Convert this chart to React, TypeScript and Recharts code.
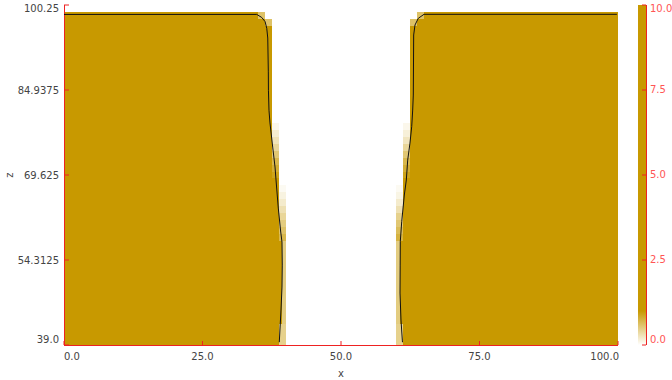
import React from 'react';
import { ComposedChart, XAxis, YAxis, Scatter, ReferenceArea } from 'recharts';

const GOLD = '#c89900';
const AXIS_RED = '#ee2222';
const CB_LABEL = '#ff5555';
const TEXT = '#444444';
const FONT = 'DejaVu Sans';

const xTicks = [0, 25, 50, 75, 100];
const xTickLabels = ['0.0', '25.0', '50.0', '75.0', '100.0'];
const zTicks = [39, 54.3125, 69.625, 84.9375, 100.25];
const zTickLabels = ['39.0', '54.3125', '69.625', '84.9375', '100.25'];
const cbTicks = [0, 2.5, 5, 7.5, 10];
const cbTickLabels = ['0.0', '2.5', '5.0', '7.5', '10.0'];
const cbSaturation = 1.0; // value at which the colour map reaches full gold
const cbMax = 10;
const cellHeight = 1.25;

// bottom z of each row of cells
const rowZ = [
  39, 40.25, 41.5, 42.75, 44, 45.25, 46.5, 47.75, 49, 50.25, 51.5, 52.75,
  54, 55.25, 56.5, 57.75, 59, 60.25, 61.5, 62.75, 64, 65.25, 66.5, 67.75,
  69, 70.25, 71.5, 72.75, 74, 75.25, 76.5, 77.75, 79, 80.25, 81.5, 82.75,
  84, 85.25, 86.5, 87.75, 89, 90.25, 91.5, 92.75, 94, 95.25, 96.5, 97.75,
];

// left block: full cells from x=0 to leftFull, partial cell leftFull..leftFringeEnd
const leftFull = [
  38.75, 38.75, 38.75,
  39.375, 39.375, 39.375, 39.375, 39.375, 39.375, 39.375, 39.375, 39.375, 39.375, 39.375, 39.375,
  38.75, 38.75, 38.75, 38.75, 38.75, 38.75, 38.75, 38.75, 38.75,
  37.5, 37.5, 37.5, 37.5, 37.5, 37.5, 37.5, 37.5, 37.5, 37.5, 37.5, 37.5,
  37.5, 37.5, 37.5, 37.5, 37.5, 37.5, 37.5, 37.5, 37.5, 37.5,
  36.25, 35,
];
const leftFringeEnd = [
  40, 40, 40,
  40, 40, 40, 40, 40, 40, 40, 40, 40, 40, 40, 40,
  40, 40, 40, 40, 40, 40, 40, 40, 38.75,
  38.75, 38.75, 38.75, 38.75, 38.75, 38.75, 38.75, 38.75, 37.5, 37.5, 37.5, 37.5,
  37.5, 37.5, 37.5, 37.5, 37.5, 37.5, 37.5, 37.5, 37.5, 37.5,
  37.5, 36.25,
];
const leftFringeVal = [
  0.45, 0.45, 0.45,
  0.5, 0.5, 0.5, 0.5, 0.5, 0.5, 0.5, 0.5, 0.5, 0.5, 0.5, 0.5,
  0.7, 0.6, 0.5, 0.4, 0.3, 0.2, 0.12, 0.05, 0,
  0.9, 0.8, 0.7, 0.55, 0.4, 0.28, 0.18, 0.08, 0, 0, 0, 0,
  0, 0, 0, 0, 0, 0, 0, 0, 0, 0,
  0.6, 0.6,
];

// right block: partial cell rightFringeStart..rightFull, full cells rightFull..100
const rightFull = [
  61.25, 61.25, 61.25,
  60.625, 60.625, 60.625, 60.625, 60.625, 60.625, 60.625, 60.625, 60.625, 60.625, 60.625, 60.625,
  61.25, 61.25, 61.25, 61.25, 61.25, 61.25, 61.25, 61.25, 61.25,
  62.5, 62.5, 62.5, 62.5, 62.5, 62.5, 62.5, 62.5, 62.5, 62.5, 62.5, 62.5,
  62.5, 62.5, 62.5, 62.5, 62.5, 62.5, 62.5, 62.5, 62.5, 62.5,
  63.75, 65,
];
const rightFringeStart = [
  60, 60, 60,
  60, 60, 60, 60, 60, 60, 60, 60, 60, 60, 60, 60,
  60, 60, 60, 60, 60, 60, 60, 60, 61.25,
  61.25, 61.25, 61.25, 61.25, 61.25, 61.25, 61.25, 61.25, 62.5, 62.5, 62.5, 62.5,
  62.5, 62.5, 62.5, 62.5, 62.5, 62.5, 62.5, 62.5, 62.5, 62.5,
  62.5, 63.75,
];
const rightFringeVal = [
  0.45, 0.45, 0.45,
  0.5, 0.5, 0.5, 0.5, 0.5, 0.5, 0.5, 0.5, 0.5, 0.5, 0.5, 0.5,
  0.75, 0.65, 0.55, 0.45, 0.3, 0.2, 0.1, 0.05, 0,
  0.9, 0.8, 0.7, 0.55, 0.4, 0.25, 0.15, 0.08, 0, 0, 0, 0,
  0, 0, 0, 0, 0, 0, 0, 0, 0, 0,
  0.6, 0.6,
];
const fieldXMax = 100;

const leftContour = [
  { x: 0, z: 98.55 }, { x: 34.8, z: 98.55 }, { x: 35.7, z: 98.0 }, { x: 36.3, z: 97.25 },
  { x: 36.6, z: 96.05 }, { x: 36.78, z: 94.3 }, { x: 36.88, z: 88.2 }, { x: 36.9, z: 84.9 },
  { x: 37.0, z: 81.3 }, { x: 37.18, z: 79.0 }, { x: 37.67, z: 74.66 }, { x: 38.09, z: 71.06 },
  { x: 38.27, z: 68.72 }, { x: 38.68, z: 63.67 }, { x: 39.12, z: 59.35 }, { x: 39.35, z: 57.55 },
  { x: 39.4, z: 53.4 }, { x: 39.35, z: 49.44 }, { x: 39.17, z: 45.3 }, { x: 38.86, z: 39.5 },
];
const rightContour = [
  { x: 99.8, z: 98.57 }, { x: 66.97, z: 98.57 }, { x: 64.98, z: 98.57 }, { x: 63.95, z: 97.85 },
  { x: 63.36, z: 96.65 }, { x: 63.12, z: 94.85 }, { x: 63.05, z: 84.03 }, { x: 62.94, z: 81.33 },
  { x: 62.76, z: 78.32 }, { x: 62.45, z: 75.38 }, { x: 62.04, z: 72.31 }, { x: 61.79, z: 68.72 },
  { x: 61.43, z: 66.02 }, { x: 60.96, z: 61.21 }, { x: 60.7, z: 57.6 }, { x: 60.68, z: 53.4 },
  { x: 60.65, z: 48.36 }, { x: 60.83, z: 43.5 }, { x: 61.07, z: 39.89 }, { x: 61.1, z: 39.5 },
];

const CrispRect = (p: any) => (
  <rect x={p.x} y={p.y} width={p.width} height={p.height} fill={p.fill}
    fillOpacity={p.fillOpacity} stroke="none" shapeRendering="crispEdges" />
);

const ColorbarRect = (p: any) => (
  <g>
    <defs>
      <linearGradient id="cbGradient" x1="0" y1="1" x2="0" y2="0">
        <stop offset="0" stopColor="#ffffff" />
        <stop offset={cbSaturation / cbMax} stopColor={GOLD} />
        <stop offset="1" stopColor={GOLD} />
      </linearGradient>
    </defs>
    <rect x={p.x} y={p.y} width={p.width} height={p.height} fill="url(#cbGradient)"
      stroke="none" shapeRendering="crispEdges" />
  </g>
);

const XTick = (props: any) => {
  const { x, y, payload } = props;
  const i = xTicks.indexOf(payload.value);
  const anchor = i === 0 ? 'start' : i === xTicks.length - 1 ? 'end' : 'middle';
  return (
    <g>
      <line x1={x} x2={x} y1={y} y2={y - 4} stroke={AXIS_RED} />
      <text x={i === xTicks.length - 1 ? x + 1 : x} y={y + 15} textAnchor={anchor}
        fill={TEXT} fontSize={10} fontFamily={FONT}>{xTickLabels[i]}</text>
    </g>
  );
};

const YTick = (props: any) => {
  const { x, y, payload } = props;
  const i = zTicks.indexOf(payload.value);
  const dy = i === zTicks.length - 1 ? 6.7 : i === 0 ? -1.7 : 3.6;
  return (
    <g>
      <line x1={x} x2={x + 5} y1={y} y2={y} stroke={AXIS_RED} />
      <text x={x - 5} y={y + dy} textAnchor="end" fill={TEXT} fontSize={10}
        fontFamily={FONT}>{zTickLabels[i]}</text>
    </g>
  );
};

const CbTick = (props: any) => {
  const { x, y, payload } = props;
  const i = cbTicks.indexOf(payload.value);
  const dy = i === cbTicks.length - 1 ? 6.7 : i === 0 ? -1.7 : 3.4;
  return (
    <g>
      <line x1={x - 4} x2={x} y1={y} y2={y} stroke={AXIS_RED} />
      <text x={x + 4} y={y + dy} textAnchor="start" fill={CB_LABEL} fontSize={10}
        fontFamily={FONT}>{cbTickLabels[i]}</text>
    </g>
  );
};

const ZLabel = (props: any) => {
  const vb = props.viewBox || { x: 0, y: 5, width: 64, height: 340 };
  const cx = vb.x + 13;
  const cy = vb.y + vb.height / 2;
  return (
    <text x={cx} y={cy} transform={`rotate(-90, ${cx}, ${cy})`} textAnchor="middle"
      fill={TEXT} fontSize={10} fontFamily={FONT}>z</text>
  );
};

const XLabel = (props: any) => {
  const vb = props.viewBox || { x: 64, y: 345, width: 554, height: 35 };
  return (
    <text x={vb.x + vb.width / 2} y={vb.y + 32} textAnchor="middle" fill={TEXT}
      fontSize={10} fontFamily={FONT}>x</text>
  );
};

const NoPoint = () => <g />;

const op = (v: number) => Math.min(v / cbSaturation, 1);

const colorbarData = [{ x: 0, v: 0 }, { x: 1, v: cbMax }];

export default function App() {
  const cells: React.ReactNode[] = [];
  rowZ.forEach((z0, i) => {
    const z1 = z0 + cellHeight;
    cells.push(
      <ReferenceArea key={`lf${i}`} x1={0} x2={leftFull[i]} y1={z0} y2={z1}
        fill={GOLD} fillOpacity={1} shape={CrispRect} />
    );
    if (leftFringeVal[i] > 0) {
      cells.push(
        <ReferenceArea key={`lp${i}`} x1={leftFull[i]} x2={leftFringeEnd[i]} y1={z0} y2={z1}
          fill={GOLD} fillOpacity={op(leftFringeVal[i])} shape={CrispRect} />
      );
    }
    cells.push(
      <ReferenceArea key={`rf${i}`} x1={rightFull[i]} x2={fieldXMax} y1={z0} y2={z1}
        fill={GOLD} fillOpacity={1} shape={CrispRect} />
    );
    if (rightFringeVal[i] > 0) {
      cells.push(
        <ReferenceArea key={`rp${i}`} x1={rightFringeStart[i]} x2={rightFull[i]} y1={z0} y2={z1}
          fill={GOLD} fillOpacity={op(rightFringeVal[i])} shape={CrispRect} />
      );
    }
  });

  return (
    <div style={{ position: 'absolute', left: 0, top: 0, width: 672, height: 380, background: '#fff' }}>
      <div style={{ position: 'absolute', left: 0, top: 0 }}>
        <ComposedChart width={672} height={380} margin={{ top: 5, right: 54, bottom: 0, left: 0 }}>
          <XAxis dataKey="x" type="number" domain={[0, 100]} ticks={xTicks} allowDataOverflow
            height={35} tickSize={0} tickMargin={0} tickLine={false} tick={<XTick />}
            axisLine={{ stroke: AXIS_RED, shapeRendering: 'crispEdges' }} interval={0}
            label={{ content: XLabel }} />
          <YAxis dataKey="z" type="number" domain={[39, 100.25]} ticks={zTicks} allowDataOverflow
            width={64} tickSize={0} tickMargin={0} tickLine={false} tick={<YTick />}
            axisLine={{ stroke: AXIS_RED, shapeRendering: 'crispEdges' }} interval={0}
            label={{ content: ZLabel }} />
          {cells}
          <Scatter data={leftContour} line={{ stroke: '#111111', strokeWidth: 1 }}
            shape={NoPoint} isAnimationActive={false} />
          <Scatter data={rightContour} line={{ stroke: '#111111', strokeWidth: 1 }}
            shape={NoPoint} isAnimationActive={false} />
        </ComposedChart>
      </div>
      <div style={{ position: 'absolute', left: 0, top: 0 }}>
        <ComposedChart width={672} height={380} data={colorbarData}
          margin={{ top: 5, right: 0, bottom: 35, left: 638 }}>
          <XAxis dataKey="x" type="number" domain={[0, 1]} hide allowDataOverflow />
          <YAxis dataKey="v" type="number" orientation="right" domain={[0, cbMax]} ticks={cbTicks}
            allowDataOverflow width={26} tickSize={0} tickMargin={0} tickLine={false}
            tick={<CbTick />} interval={0}
            axisLine={{ stroke: AXIS_RED, shapeRendering: 'crispEdges' }} />
          <ReferenceArea y1={0} y2={cbMax} fill={GOLD} fillOpacity={1} ifOverflow="visible"
            shape={ColorbarRect} />
        </ComposedChart>
      </div>
    </div>
  );
}
